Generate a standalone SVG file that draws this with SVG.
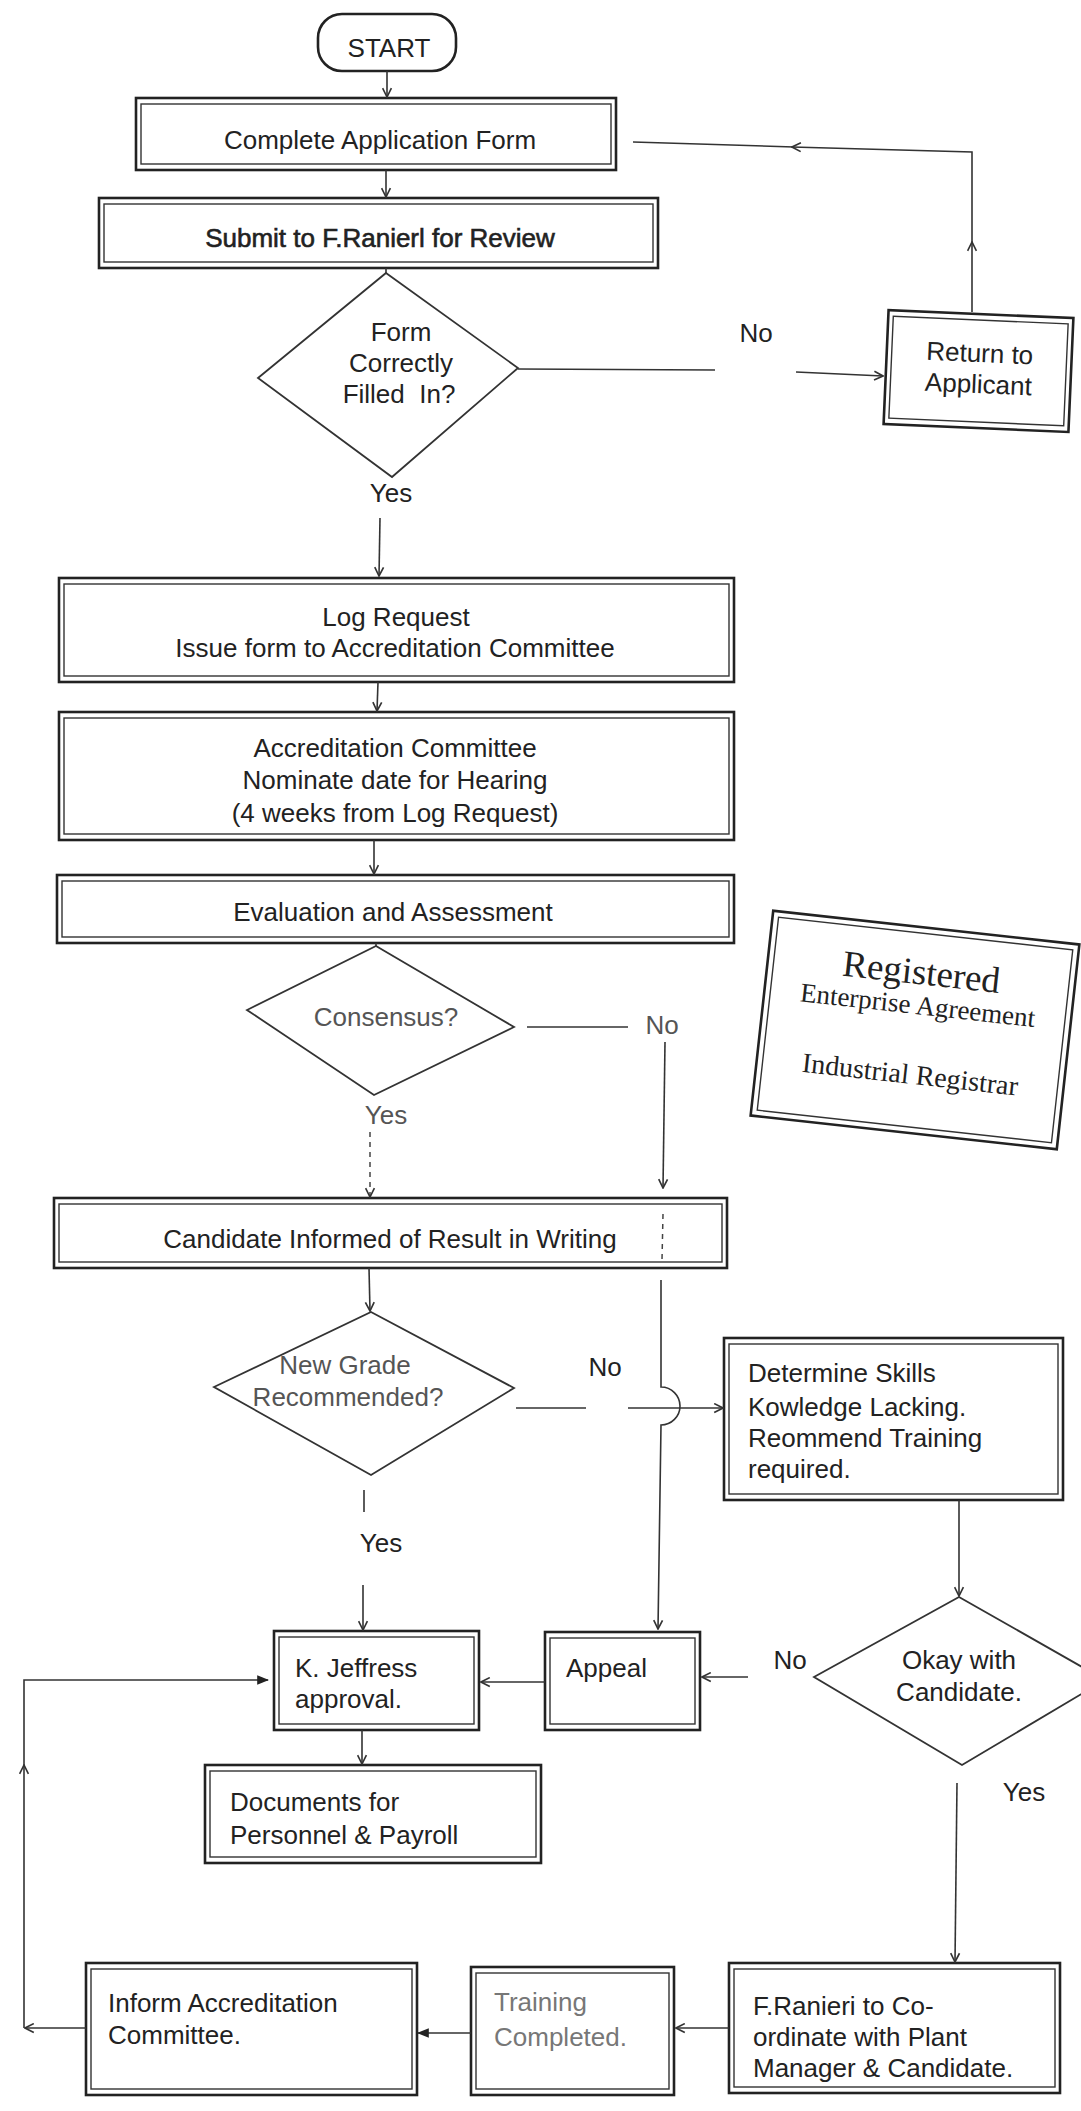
<svg xmlns="http://www.w3.org/2000/svg" width="1081" height="2111" viewBox="0 0 1081 2111">
<defs>
<style>
.bo{fill:#fff;stroke:#222;stroke-width:2.6}
.bi{fill:none;stroke:#333;stroke-width:1.4}
.dia{fill:none;stroke:#333;stroke-width:1.8}
.ln{fill:none;stroke:#333;stroke-width:1.6}
.dash{fill:none;stroke:#444;stroke-width:1.5;stroke-dasharray:5 5}
.t{font-family:"Liberation Sans",Arial,sans-serif;font-size:26px;fill:#222}
.c{text-anchor:middle}
.g{fill:#555}
.lg{fill:#777}
.b{stroke:#222;stroke-width:0.6}
.s{font-family:"Liberation Serif","Times New Roman",serif;fill:#222;text-anchor:middle}
</style>
<marker id="a" viewBox="0 0 10 10" refX="9" refY="5" markerWidth="11" markerHeight="11" markerUnits="userSpaceOnUse" orient="auto"><path d="M1,1 L9,5 L1,9" fill="none" stroke="#333" stroke-width="1.5"/></marker>
<marker id="f" viewBox="0 0 10 10" refX="9" refY="5" markerWidth="12" markerHeight="12" markerUnits="userSpaceOnUse" orient="auto"><path d="M0,1 L10,5 L0,9 Z" fill="#222"/></marker>
</defs>
<rect width="1081" height="2111" fill="#fff"/>

<g id="start">
<rect x="318" y="14" width="138" height="57" rx="24" fill="#fff" stroke="#222" stroke-width="2.6"/>
<text class="t c" x="389" y="57" font-size="24">START</text>
</g>

<g id="complete-form">
<rect class="bo" x="136" y="98" width="480" height="72"/>
<rect class="bi" x="141" y="104" width="470" height="60"/>
<text class="t c" x="380" y="149">Complete Application Form</text>
</g>

<g id="submit">
<rect class="bo" x="99" y="198" width="559" height="70"/>
<rect class="bi" x="104" y="204" width="549" height="58"/>
<text class="t c b" x="380" y="247">Submit to F.Ranierl for Review</text>
</g>

<g id="form-correct">
<polygon class="dia" points="386,273 518,368 392,477 258,378"/>
<text class="t c" x="401" y="341">Form</text>
<text class="t c" x="401" y="372">Correctly</text>
<text class="t c" x="399" y="403" xml:space="preserve">Filled  In?</text>
</g>

<g id="return-applicant" transform="rotate(2.5 978 371)">
<rect class="bo" x="886" y="314" width="185" height="114"/>
<rect class="bi" x="891" y="320" width="175" height="102"/>
<text class="t c" x="979" y="362">Return to</text>
<text class="t c" x="979" y="393">Applicant</text>
</g>

<g id="log-request">
<rect class="bo" x="59" y="578" width="675" height="104"/>
<rect class="bi" x="64" y="584" width="665" height="92"/>
<text class="t c" x="396" y="626">Log Request</text>
<text class="t c" x="395" y="657">Issue form to Accreditation Committee</text>
</g>

<g id="committee-date">
<rect class="bo" x="59" y="712" width="675" height="128"/>
<rect class="bi" x="64" y="718" width="665" height="116"/>
<text class="t c" x="395" y="757">Accreditation Committee</text>
<text class="t c" x="395" y="789">Nominate date for Hearing</text>
<text class="t c" x="395" y="822">(4 weeks from Log Request)</text>
</g>

<g id="evaluation">
<rect class="bo" x="57" y="875" width="677" height="68"/>
<rect class="bi" x="62" y="881" width="667" height="56"/>
<text class="t c" x="393" y="921">Evaluation and Assessment</text>
</g>

<g id="consensus">
<polygon class="dia" points="376,946 514,1027 374,1095 247,1010"/>
<text class="t c g" x="386" y="1026">Consensus?</text>
</g>

<g id="registered-stamp" transform="translate(915 1030) rotate(6.3)">
<rect x="-154" y="-103" width="308" height="206" fill="#fff" stroke="#222" stroke-width="2.6"/>
<rect x="-148" y="-97" width="296" height="194" fill="none" stroke="#333" stroke-width="1.4"/>
<text class="s" x="0" y="-46" font-size="37">Registered</text>
<text class="s" x="0" y="-16" font-size="27">Enterprise Agreement</text>
<text class="s" x="0" y="54" font-size="28">Industrial Registrar</text>
</g>

<g id="candidate-informed">
<rect class="bo" x="54" y="1198" width="673" height="70"/>
<rect class="bi" x="59" y="1204" width="663" height="58"/>
<text class="t c" x="390" y="1248">Candidate Informed of Result in Writing</text>
</g>

<g id="new-grade">
<polygon class="dia" points="371,1312 514,1388 371,1475 214,1387"/>
<text class="t c g" x="345" y="1374">New Grade</text>
<text class="t c g" x="348" y="1406">Recommended?</text>
</g>

<g id="determine-skills">
<rect class="bo" x="724" y="1338" width="339" height="162"/>
<rect class="bi" x="729" y="1344" width="329" height="150"/>
<text class="t" x="748" y="1382">Determine Skills</text>
<text class="t" x="748" y="1416">Kowledge Lacking.</text>
<text class="t" x="748" y="1447">Reommend Training</text>
<text class="t" x="748" y="1478">required.</text>
</g>

<g id="okay-candidate">
<polygon class="dia" points="959,1597 1105,1680 962,1765 814,1677"/>
<text class="t c" x="959" y="1669">Okay with</text>
<text class="t c" x="959" y="1701">Candidate.</text>
</g>

<g id="appeal">
<rect class="bo" x="545" y="1632" width="155" height="98"/>
<rect class="bi" x="550" y="1638" width="145" height="86"/>
<text class="t" x="566" y="1677">Appeal</text>
</g>

<g id="jeffress-approval">
<rect class="bo" x="274" y="1631" width="205" height="99"/>
<rect class="bi" x="279" y="1637" width="195" height="87"/>
<text class="t" x="295" y="1677">K. Jeffress</text>
<text class="t" x="295" y="1708">approval.</text>
</g>

<g id="documents">
<rect class="bo" x="205" y="1765" width="336" height="98"/>
<rect class="bi" x="210" y="1771" width="326" height="86"/>
<text class="t" x="230" y="1811">Documents for</text>
<text class="t" x="230" y="1844">Personnel &amp; Payroll</text>
</g>

<g id="inform-committee">
<rect class="bo" x="86" y="1963" width="331" height="132"/>
<rect class="bi" x="91" y="1969" width="321" height="120"/>
<text class="t" x="108" y="2012">Inform Accreditation</text>
<text class="t" x="108" y="2044">Committee.</text>
</g>

<g id="training-completed">
<rect class="bo" x="471" y="1967" width="203" height="128"/>
<rect class="bi" x="476" y="1973" width="193" height="116"/>
<text class="t lg" x="494" y="2011">Training</text>
<text class="t lg" x="494" y="2046">Completed.</text>
</g>

<g id="ranieri-coordinate">
<rect class="bo" x="729" y="1963" width="331" height="130"/>
<rect class="bi" x="734" y="1969" width="321" height="118"/>
<text class="t" x="753" y="2015">F.Ranieri to Co-</text>
<text class="t" x="753" y="2046">ordinate with Plant</text>
<text class="t" x="753" y="2077">Manager &amp; Candidate.</text>
</g>

<g id="connectors">
<path class="ln" d="M387,71 L387,97" marker-end="url(#a)"/>
<path class="ln" d="M386,170 L386,197" marker-end="url(#a)"/>
<path class="ln" d="M386,268 L386,273"/>
<path class="ln" d="M518,369 L715,370"/>
<path class="ln" d="M796,372 L883,376" marker-end="url(#a)"/>
<path class="ln" d="M972,312 L972,242" marker-end="url(#a)"/>
<path class="ln" d="M972,244 L972,152 L792,147" marker-end="url(#a)"/>
<path class="ln" d="M794,147 L633,142"/>
<path class="ln" d="M380,518 L379,576" marker-end="url(#a)"/>
<path class="ln" d="M378,682 L377,711" marker-end="url(#a)"/>
<path class="ln" d="M374,840 L374,874" marker-end="url(#a)"/>
<path class="ln" d="M376,943 L376,946"/>
<path class="ln" d="M527,1027 L628,1027"/>
<path class="ln" d="M665,1042 L663,1188" marker-end="url(#a)"/>
<path class="dash" d="M663,1214 L662,1260"/>
<path class="ln" d="M661,1280 L661,1387 A19,19 0 0 1 661,1425 L658,1629" marker-end="url(#a)"/>
<path class="dash" d="M370,1132 L370,1197" marker-end="url(#a)"/>
<path class="ln" d="M369,1268 L370,1311" marker-end="url(#a)"/>
<path class="ln" d="M516,1408 L586,1408"/>
<path class="ln" d="M628,1408 L723,1408" marker-end="url(#a)"/>
<path class="ln" d="M959,1500 L959,1596" marker-end="url(#a)"/>
<path class="ln" d="M748,1677 L702,1677" marker-end="url(#a)"/>
<path class="ln" d="M545,1682 L481,1682" marker-end="url(#a)"/>
<path class="ln" d="M364,1490 L364,1512"/>
<path class="ln" d="M363,1585 L363,1630" marker-end="url(#a)"/>
<path class="ln" d="M362,1730 L362,1764" marker-end="url(#a)"/>
<path class="ln" d="M957,1783 L955,1962" marker-end="url(#a)"/>
<path class="ln" d="M729,2028 L676,2028" marker-end="url(#a)"/>
<path class="ln" d="M471,2033 L418,2033" marker-end="url(#f)"/>
<path class="ln" d="M86,2028 L25,2028" marker-end="url(#a)"/>
<path class="ln" d="M24,2028 L24,1765" marker-end="url(#a)"/>
<path class="ln" d="M24,1767 L24,1680 L268,1680" marker-end="url(#f)"/>
<g id="labels">
<text class="t c" x="756" y="342">No</text>
<text class="t c" x="391" y="502">Yes</text>
<text class="t c g" x="662" y="1034">No</text>
<text class="t c g" x="386" y="1124">Yes</text>
<text class="t c" x="605" y="1376">No</text>
<text class="t c" x="381" y="1552">Yes</text>
<text class="t c" x="790" y="1669">No</text>
<text class="t c" x="1024" y="1801">Yes</text>
</g>
</g>
</svg>
